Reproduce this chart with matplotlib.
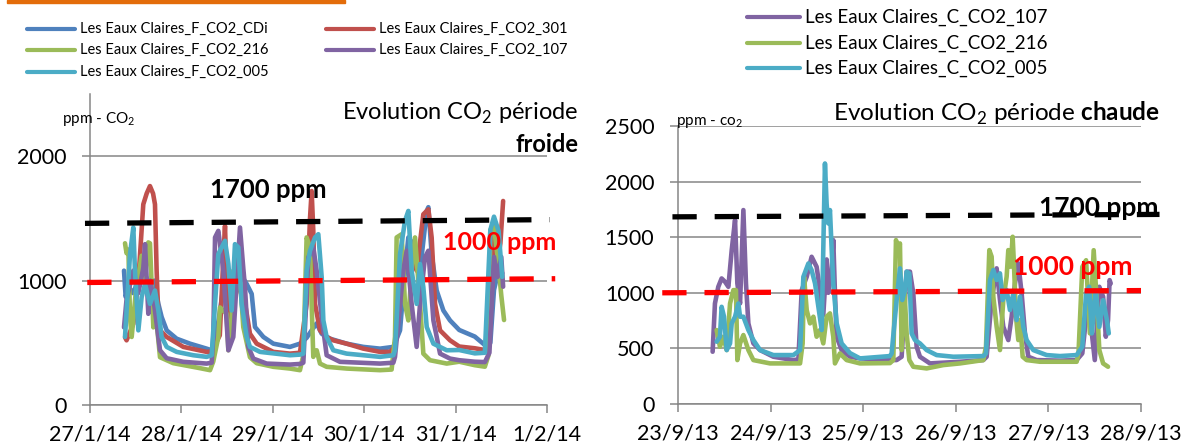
import matplotlib
matplotlib.use("Agg")
import matplotlib.pyplot as plt
from matplotlib.lines import Line2D
from matplotlib.patches import Rectangle

plt.rcParams["font.family"] = ["Lato", "DejaVu Sans"]
plt.rcParams["mathtext.fontset"] = "custom"
plt.rcParams["mathtext.rm"] = "Lato"
plt.rcParams["mathtext.bf"] = "Lato:bold"

W, H = 1184, 447

BLUE = "#4F81BD"
RED = "#C0504D"
GREEN = "#9BBB59"
PURPLE = "#8064A2"
AQUA = "#4BACC6"
GRID = "#868686"

# =========================================================
# DATA  (x = days after first tick, y = ppm CO2)
# =========================================================
cold_ticks = ["27/1/14", "28/1/14", "29/1/14", "30/1/14", "31/1/14", "1/2/14"]
hot_ticks = ["23/9/13", "24/9/13", "25/9/13", "26/9/13", "27/9/13", "28/9/13"]

cold_cdi = [(0.372, 1080), (0.39, 870), (0.42, 950), (0.47, 900), (0.53, 1000), (0.60, 1050),
            (0.66, 950), (0.70, 1000), (0.748, 813), (0.784, 707), (0.839, 600), (0.948, 533),
            (1.094, 493), (1.276, 453), (1.331, 440), (1.368, 547), (1.40, 650), (1.45, 900),
            (1.55, 1000), (1.65, 1050), (1.714, 973), (1.769, 893), (1.805, 627), (1.897, 547),
            (2.006, 493), (2.188, 467), (2.297, 493), (2.370, 540), (2.425, 600), (2.480, 656),
            (2.535, 573), (2.626, 533), (2.808, 493), (2.991, 467), (3.173, 453), (3.319, 467),
            (3.392, 600), (3.446, 1080), (3.483, 1347), (3.538, 1293), (3.611, 1080), (3.684, 1560),
            (3.702, 1590), (3.738, 1213), (3.793, 920), (3.866, 760), (3.939, 680), (4.04, 603),
            (4.21, 550), (4.32, 482), (4.38, 500), (4.42, 925), (4.47, 1085), (4.51, 1060)]

cold_301 = [(0.383, 544), (0.40, 520), (0.474, 653), (0.529, 1000), (0.583, 1613), (0.62, 1700),
            (0.656, 1760), (0.69, 1700), (0.711, 1613), (0.729, 1080), (0.748, 700), (0.766, 600),
            (0.839, 547), (1.021, 467), (1.276, 427), (1.331, 430), (1.42, 560), (1.46, 1200),
            (1.477, 1440), (1.50, 900), (1.52, 500), (1.56, 700), (1.60, 1000), (1.641, 920),
            (1.70, 800), (1.75, 573), (1.824, 493), (2.006, 427), (2.188, 413), (2.297, 420),
            (2.37, 813), (2.407, 1500), (2.425, 1720), (2.443, 1400), (2.462, 813), (2.516, 600),
            (2.589, 547), (2.662, 520), (2.808, 493), (2.991, 453), (3.173, 427), (3.282, 427),
            (3.337, 467), (3.428, 1080), (3.501, 1213), (3.574, 1080), (3.647, 1533), (3.702, 1573),
            (3.738, 1347), (3.775, 813), (3.83, 600), (3.939, 520), (4.04, 470), (4.21, 456),
            (4.32, 442), (4.37, 540), (4.42, 1460), (4.45, 1100), (4.49, 1300), (4.52, 1640)]

cold_216 = [(0.383, 1300), (0.40, 1220), (0.42, 1250), (0.438, 700), (0.456, 547), (0.50, 900),
            (0.565, 1200), (0.60, 1000), (0.638, 1307), (0.656, 1300), (0.693, 624), (0.711, 800),
            (0.766, 384), (0.912, 336), (1.204, 296), (1.313, 280), (1.349, 350), (1.404, 547),
            (1.422, 784), (1.495, 733), (1.514, 440), (1.55, 700), (1.568, 1080), (1.641, 1024),
            (1.677, 627), (1.75, 384), (1.824, 336), (2.006, 307), (2.188, 293), (2.297, 280),
            (2.334, 400), (2.37, 1347), (2.407, 1267), (2.425, 813), (2.443, 387), (2.48, 440),
            (2.516, 333), (2.589, 307), (2.808, 293), (3.173, 280), (3.30, 285), (3.337, 547),
            (3.355, 1347), (3.41, 1373), (3.446, 813), (3.483, 680), (3.519, 1080), (3.556, 1347),
            (3.611, 813), (3.647, 413), (3.72, 360), (3.903, 333), (4.04, 348), (4.21, 320),
            (4.32, 308), (4.36, 400), (4.38, 1407), (4.42, 1430), (4.46, 1190), (4.50, 880),
            (4.53, 683)]

cold_107 = [(0.372, 624), (0.40, 850), (0.474, 1080), (0.529, 900), (0.583, 1100), (0.602, 1293),
            (0.638, 733), (0.66, 1000), (0.70, 820), (0.766, 440), (0.839, 376), (1.021, 347),
            (1.276, 333), (1.331, 340), (1.349, 547), (1.368, 1347), (1.404, 1400), (1.459, 1080),
            (1.514, 440), (1.568, 547), (1.641, 1427), (1.677, 1100), (1.696, 944), (1.732, 467),
            (1.787, 373), (1.933, 333), (2.188, 325), (2.297, 330), (2.334, 340), (2.389, 1187),
            (2.443, 1267), (2.48, 1080), (2.535, 707), (2.589, 400), (2.735, 347), (3.173, 333),
            (3.319, 340), (3.337, 387), (3.428, 1080), (3.465, 1240), (3.519, 813), (3.574, 467),
            (3.611, 813), (3.665, 1187), (3.702, 1240), (3.757, 680), (3.83, 413), (3.939, 373),
            (4.04, 360), (4.21, 348), (4.32, 345), (4.37, 420), (4.42, 1190), (4.46, 1030),
            (4.50, 1190), (4.52, 951)]

cold_005 = [(0.383, 547), (0.438, 1213), (0.474, 1427), (0.492, 1080), (0.529, 600), (0.565, 867),
            (0.602, 973), (0.656, 813), (0.711, 920), (0.748, 760), (0.784, 547), (0.839, 467),
            (0.948, 427), (1.13, 400), (1.276, 387), (1.331, 400), (1.368, 813), (1.404, 1213),
            (1.477, 1320), (1.514, 1133), (1.55, 760), (1.586, 1293), (1.623, 1267), (1.659, 813),
            (1.714, 547), (1.75, 467), (1.86, 427), (2.188, 400), (2.297, 405), (2.334, 413),
            (2.37, 1080), (2.407, 1240), (2.462, 1347), (2.498, 1373), (2.535, 1027), (2.553, 680),
            (2.589, 547), (2.662, 440), (2.808, 413), (3.173, 387), (3.319, 400), (3.337, 440),
            (3.392, 1213), (3.446, 1480), (3.483, 1560), (3.519, 1080), (3.574, 813), (3.611, 1133),
            (3.647, 947), (3.684, 627), (3.757, 493), (3.903, 440), (4.04, 442), (4.21, 415),
            (4.32, 420), (4.38, 1407), (4.42, 1514), (4.47, 1400), (4.51, 1030)]

hot_107 = [(0.374, 470), (0.399, 904), (0.435, 1054), (0.471, 1129), (0.508, 1099), (0.544, 1054),
           (0.580, 1384), (0.616, 1654), (0.641, 1084), (0.670, 904), (0.706, 1744), (0.734, 1084),
           (0.760, 725), (0.814, 545), (0.886, 485), (1.030, 425), (1.246, 395), (1.300, 401),
           (1.336, 1024), (1.39, 1144), (1.443, 1324), (1.497, 1234), (1.533, 1024), (1.569, 800),
           (1.605, 1300), (1.623, 1000), (1.659, 1200), (1.677, 1474), (1.695, 1000), (1.713, 605),
           (1.767, 485), (1.857, 425), (1.965, 410), (2.289, 396), (2.361, 395), (2.415, 425),
           (2.451, 935), (2.469, 1190), (2.505, 1190), (2.541, 995), (2.577, 515), (2.613, 425),
           (2.721, 365), (3.045, 380), (3.297, 395), (3.333, 425), (3.387, 935), (3.441, 1220),
           (3.477, 935), (3.513, 695), (3.567, 575), (3.603, 785), (3.639, 1085), (3.675, 1265),
           (3.711, 995), (3.747, 635), (3.783, 425), (3.873, 395), (4.125, 390), (4.305, 395),
           (4.366, 455), (4.428, 934), (4.469, 635), (4.501, 395), (4.55, 1054), (4.591, 964),
           (4.62, 605), (4.644, 754), (4.661, 1114), (4.673, 1084)]

hot_216 = [(0.417, 665), (0.453, 515), (0.489, 605), (0.526, 485), (0.562, 904), (0.598, 1024),
           (0.626, 1024), (0.641, 395), (0.670, 545), (0.706, 620), (0.760, 485), (0.814, 395),
           (0.994, 365), (1.318, 365), (1.346, 545), (1.361, 1144), (1.390, 844), (1.426, 725),
           (1.462, 785), (1.497, 605), (1.533, 665), (1.569, 545), (1.605, 785), (1.641, 815),
           (1.677, 605), (1.695, 365), (1.749, 455), (1.821, 395), (1.965, 365), (2.289, 368),
           (2.325, 395), (2.354, 1474), (2.379, 1384), (2.397, 1444), (2.415, 485), (2.444, 1055),
           (2.469, 635), (2.498, 395), (2.541, 335), (2.685, 320), (2.865, 350), (3.045, 365),
           (3.297, 395), (3.326, 515), (3.362, 1384), (3.387, 1325), (3.405, 965), (3.441, 695),
           (3.477, 485), (3.513, 935), (3.549, 1145), (3.567, 1384), (3.592, 1235), (3.614, 1504),
           (3.629, 1235), (3.650, 785), (3.675, 575), (3.693, 755), (3.722, 425), (3.765, 395),
           (3.909, 380), (4.125, 380), (4.305, 380), (4.325, 455), (4.366, 1233), (4.407, 1293),
           (4.448, 635), (4.489, 1383), (4.522, 934), (4.55, 485), (4.591, 365), (4.644, 335)]

hot_005 = [(0.417, 560), (0.453, 605), (0.471, 874), (0.497, 785), (0.526, 485), (0.562, 545),
           (0.580, 725), (0.616, 785), (0.652, 904), (0.670, 785), (0.706, 785), (0.760, 665),
           (0.814, 575), (0.886, 485), (1.030, 440), (1.246, 440), (1.318, 485), (1.354, 1144),
           (1.408, 1264), (1.443, 1204), (1.480, 1084), (1.516, 874), (1.552, 665), (1.587, 2163),
           (1.605, 1800), (1.623, 1624), (1.641, 1744), (1.659, 1400), (1.677, 1084), (1.713, 728),
           (1.767, 545), (1.857, 458), (1.965, 410), (2.289, 431), (2.307, 455), (2.361, 935),
           (2.397, 1220), (2.422, 935), (2.451, 1025), (2.469, 1190), (2.498, 1175), (2.523, 635),
           (2.559, 575), (2.613, 545), (2.685, 485), (2.793, 440), (2.973, 425), (3.297, 431),
           (3.326, 455), (3.369, 1115), (3.405, 1205), (3.441, 1115), (3.477, 1175), (3.506, 935),
           (3.549, 1025), (3.585, 845), (3.621, 995), (3.657, 755), (3.693, 965), (3.729, 695),
           (3.765, 575), (3.837, 485), (3.981, 440), (4.125, 431), (4.305, 440), (4.366, 515),
           (4.407, 994), (4.44, 1054), (4.469, 635), (4.51, 1024), (4.55, 694), (4.591, 934),
           (4.632, 754), (4.652, 635)]

# reference lines as drawn (value at left end, value at right end)
cold_black = (1460, 1490)
cold_red = (985, 1015)
hot_black = (1683, 1705)
hot_red = (1000, 1020)

cold_series = [
    ("Les Eaux Claires_F_CO2_CDi", cold_cdi, BLUE),
    ("Les Eaux Claires_F_CO2_301", cold_301, RED),
    ("Les Eaux Claires_F_CO2_216", cold_216, GREEN),
    ("Les Eaux Claires_F_CO2_107", cold_107, PURPLE),
    ("Les Eaux Claires_F_CO2_005", cold_005, AQUA),
]
hot_series = [
    ("Les Eaux Claires_C_CO2_107", hot_107, PURPLE),
    ("Les Eaux Claires_C_CO2_216", hot_216, GREEN),
    ("Les Eaux Claires_C_CO2_005", hot_005, AQUA),
]


def fx(px):
    return px / W


def fy(py):
    return 1 - py / H


def setup_axes(ax, ticks, ymax_tick):
    ax.set_xlim(0, 5)
    ax.set_ylim(0, 2500)
    ax.set_xticks(range(6))
    ax.set_xticklabels(ticks)
    ax.set_yticks(range(0, ymax_tick + 1, 1000 if ymax_tick == 2000 else 500))
    ax.grid(axis="y", color=GRID, linewidth=1.1)
    ax.set_axisbelow(True)
    for s in ["top", "right"]:
        ax.spines[s].set_visible(False)
    for s in ["left", "bottom"]:
        ax.spines[s].set_color(GRID)
        ax.spines[s].set_linewidth(1.1)
    ax.tick_params(axis="both", colors=GRID, labelcolor="black", labelsize=15.5,
                   length=6, width=1.1)
    ax.tick_params(axis="y", pad=11)
    ax.tick_params(axis="x", pad=8)


def draw_series(ax, series):
    for name, pts, color in series:
        t = [p[0] for p in pts]
        v = [p[1] for p in pts]
        ax.plot(t, v, color=color, linewidth=3.3, solid_joinstyle="round",
                solid_capstyle="round", zorder=3)


def draw_limit(ax, x0, x1, vals, color):
    ax.plot([x0, x1], list(vals), color=color, linewidth=3.8, dashes=(4.6, 3.4),
            dash_capstyle="butt", clip_on=False, zorder=5)


def draw_legend(fig, series, x_handle, y_rows, handle_len, fontsize):
    for i, (name, pts, color) in enumerate(series):
        x0, y = x_handle[i], y_rows[i]
        fig.add_artist(Line2D([fx(x0), fx(x0 + handle_len)], [fy(y), fy(y)],
                              color=color, linewidth=3.0, solid_capstyle="round"))
        fig.text(fx(x0 + handle_len + 5), fy(y), name, fontsize=fontsize,
                 ha="left", va="center")


fig = plt.figure(figsize=(W / 100, H / 100), dpi=100)

# orange rule at the top
fig.add_artist(Rectangle((fx(7), fy(2.5)), fx(338), 2.5 / H, color="#E36C0A",
                         transform=fig.transFigure))

# =========================
# Cold period (left)
# =========================
axL = fig.add_axes([fx(90), fy(405), fx(547 - 90), (405 - 94) / H])
setup_axes(axL, cold_ticks, 2000)
draw_series(axL, cold_series)
draw_limit(axL, -0.055, 5.03, cold_black, "black")
draw_limit(axL, -0.03, 5.09, cold_red, "#FF0000")

fig.text(fx(578), fy(113), "Evolution CO$_2$ période", ha="right", va="center", fontsize=17)
fig.text(fx(578), fy(145), "froide", ha="right", va="center", fontsize=17, fontweight="bold")
fig.text(fx(62), fy(119), "ppm - CO$_2$", ha="left", va="center", fontsize=11)
fig.text(fx(210), fy(190), "1700 ppm", ha="left", va="center", fontsize=18.5,
         fontweight="bold", color="black")
fig.text(fx(443), fy(243), "1000 ppm", ha="left", va="center", fontsize=18,
         fontweight="bold", color="#FF0000")

legend_cold = [cold_series[0], cold_series[2], cold_series[4], cold_series[1], cold_series[3]]
draw_legend(fig, legend_cold, [27, 27, 27, 326, 326], [29, 50, 72, 29, 50], 48, 10.5)

# =========================
# Hot period (right)
# =========================
axR = fig.add_axes([fx(678), fy(404), fx(1141 - 678), (404 - 126) / H])
setup_axes(axR, hot_ticks, 2500)
draw_series(axR, hot_series)
fig.text(fx(1039), fy(208), "1700 ppm", ha="left", va="center", fontsize=19,
         fontweight="bold", color="black", zorder=1)
draw_limit(axR, -0.06, 5.2, hot_black, "black")
draw_limit(axR, -0.17, 5.0, hot_red, "#FF0000")

fig.text(fx(1160), fy(113), r"Evolution CO$_2$ période $\mathbf{chaude}$", ha="right",
         va="center", fontsize=17.5)
fig.text(fx(676), fy(122), "ppm - co$_2$", ha="left", va="center", fontsize=11)
fig.text(fx(1013), fy(267), "1000 ppm", ha="left", va="center", fontsize=19,
         fontweight="bold", color="#FF0000")

draw_legend(fig, hot_series, [747, 747, 747], [17, 43, 68], 53, 13.5)

plt.savefig("out.png", dpi=100)
